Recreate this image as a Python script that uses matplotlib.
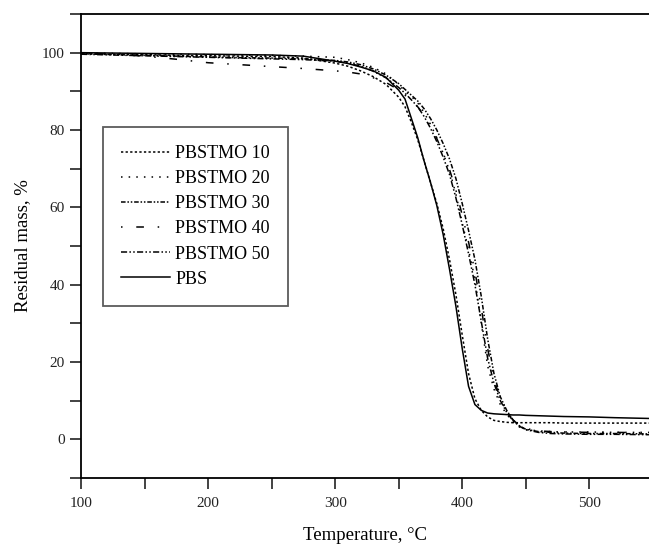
import matplotlib
matplotlib.use('Agg')
import matplotlib.pyplot as plt
from matplotlib.ticker import MultipleLocator

plt.rcParams['font.family'] = ['Liberation Serif', 'DejaVu Serif']

# temperature grid, degC
temp = [100, 125, 150, 175, 200, 225, 250, 275, 300, 310, 320, 330, 340, 350, 355,
        360, 365, 370, 375, 380, 385, 390, 395, 400, 405, 410, 415, 420, 425, 430,
        435, 440, 445, 450, 460, 470, 480, 500, 520, 547]

# residual mass, %
pbstmo10 = [99.8, 99.6, 99.5, 99.3, 99.2, 99.1, 99.0, 98.6, 97.3, 96.5, 95.3, 93.8, 91.8, 88.5, 86.0,
            82.0, 77.5, 72.0, 66.5, 61.0, 54.5, 46.5, 37.5, 27.0, 17.0, 10.5, 7.5, 5.8, 4.9, 4.6,
            4.4, 4.3, 4.3, 4.3, 4.3, 4.3, 4.2, 4.2, 4.2, 4.2]
pbstmo20 = [99.9, 99.8, 99.7, 99.6, 99.5, 99.4, 99.3, 99.1, 98.8, 98.2, 97.4, 96.2, 94.5, 91.8, 90.0,
            88.7, 87.0, 84.5, 81.5, 78.0, 74.0, 69.5, 63.5, 56.0, 49.0, 41.5, 30.0, 19.0, 13.0, 9.0,
            6.5, 4.5, 3.2, 2.5, 2.2, 2.0, 1.9, 1.9, 1.8, 1.8]
pbstmo30 = [99.7, 99.5, 99.3, 99.1, 98.9, 98.7, 98.6, 98.4, 98.0, 97.6, 96.9, 95.8, 94.2, 92.0, 90.5,
            89.0, 87.5, 85.5, 83.0, 80.0, 76.5, 72.5, 67.5, 61.0, 54.0, 46.5, 37.0, 26.0, 17.0, 11.0,
            7.5, 5.0, 3.5, 2.6, 2.0, 1.8, 1.6, 1.5, 1.5, 1.4]
pbstmo40 = [99.9, 99.6, 99.1, 98.3, 97.4, 96.9, 96.4, 95.9, 95.3, 95.0, 94.5, 93.5, 92.3, 90.4, 89.0,
            87.5, 86.0, 83.8, 81.0, 77.8, 74.0, 69.8, 64.5, 58.0, 51.0, 43.5, 34.0, 23.5, 15.5, 10.5,
            7.3, 5.0, 3.6, 2.8, 2.2, 2.0, 1.9, 1.8, 1.8, 1.7]
pbstmo50 = [99.6, 99.4, 99.2, 99.0, 98.8, 98.6, 98.4, 98.2, 97.8, 97.3, 96.5, 95.2, 93.5, 91.0, 89.5,
            87.8, 86.0, 83.5, 80.5, 77.0, 73.0, 68.5, 62.5, 55.5, 48.0, 40.0, 30.5, 21.0, 14.5, 10.0,
            7.0, 4.8, 3.4, 2.5, 1.8, 1.5, 1.4, 1.3, 1.3, 1.2]
pbs = [100.0, 99.9, 99.8, 99.7, 99.6, 99.5, 99.4, 99.1, 97.8, 97.2, 96.3, 95.3, 93.6, 90.3, 88.0,
       83.0, 78.0, 72.0, 66.5, 60.5, 53.0, 44.0, 34.5, 23.5, 13.7, 9.0, 7.5, 6.8, 6.6, 6.5,
       6.4, 6.3, 6.3, 6.2, 6.1, 6.0, 5.9, 5.8, 5.6, 5.4]

series = [('PBSTMO 10', pbstmo10, (0, (1.5, 1.5))),
          ('PBSTMO 20', pbstmo20, (0, (1, 4))),
          ('PBSTMO 30', pbstmo30, (0, (3, 1.2, 1, 1.2, 1, 1.2))),
          ('PBSTMO 40', pbstmo40, (0, (1, 9, 5, 9))),
          ('PBSTMO 50', pbstmo50, (0, (4, 1.5, 1, 1.5, 1, 1.5))),
          ('PBS', pbs, '-')]

fig = plt.figure(figsize=(6.49, 5.47), dpi=100)
ax = fig.add_axes([81/649, 69/547, 568/649, 464/547])

for name, vals, ls in series:
    ax.plot(temp, vals, color='black', linestyle=ls, linewidth=1.1, label=name)

ax.set_xlim(100, 547)
ax.set_ylim(-10, 110)
ax.xaxis.set_major_locator(MultipleLocator(100))
ax.xaxis.set_minor_locator(MultipleLocator(50))
ax.yaxis.set_major_locator(MultipleLocator(20))
ax.yaxis.set_minor_locator(MultipleLocator(10))
ax.tick_params(which='both', direction='out', length=8, width=1.2, labelsize=11,
               top=False, right=False, colors='#222222')
ax.tick_params(axis='x', pad=6)
for s in ['left', 'bottom', 'top']:
    ax.spines[s].set_linewidth(1.3)
ax.spines['right'].set_visible(False)

ax.set_xlabel('Temperature, °C', fontsize=13.5, labelpad=12)
ax.set_ylabel('Residual mass, %', fontsize=13.5, labelpad=8)

leg = ax.legend(loc='upper left', bbox_to_anchor=((103-81)/568, (478-127)/464),
                borderaxespad=0, fontsize=13, frameon=True, fancybox=False,
                edgecolor='#333333', handlelength=2.7, handletextpad=0.3,
                borderpad=1.0, labelspacing=0.45)
leg.get_frame().set_linewidth(1.3)

fig.savefig('out.png', dpi=100)
